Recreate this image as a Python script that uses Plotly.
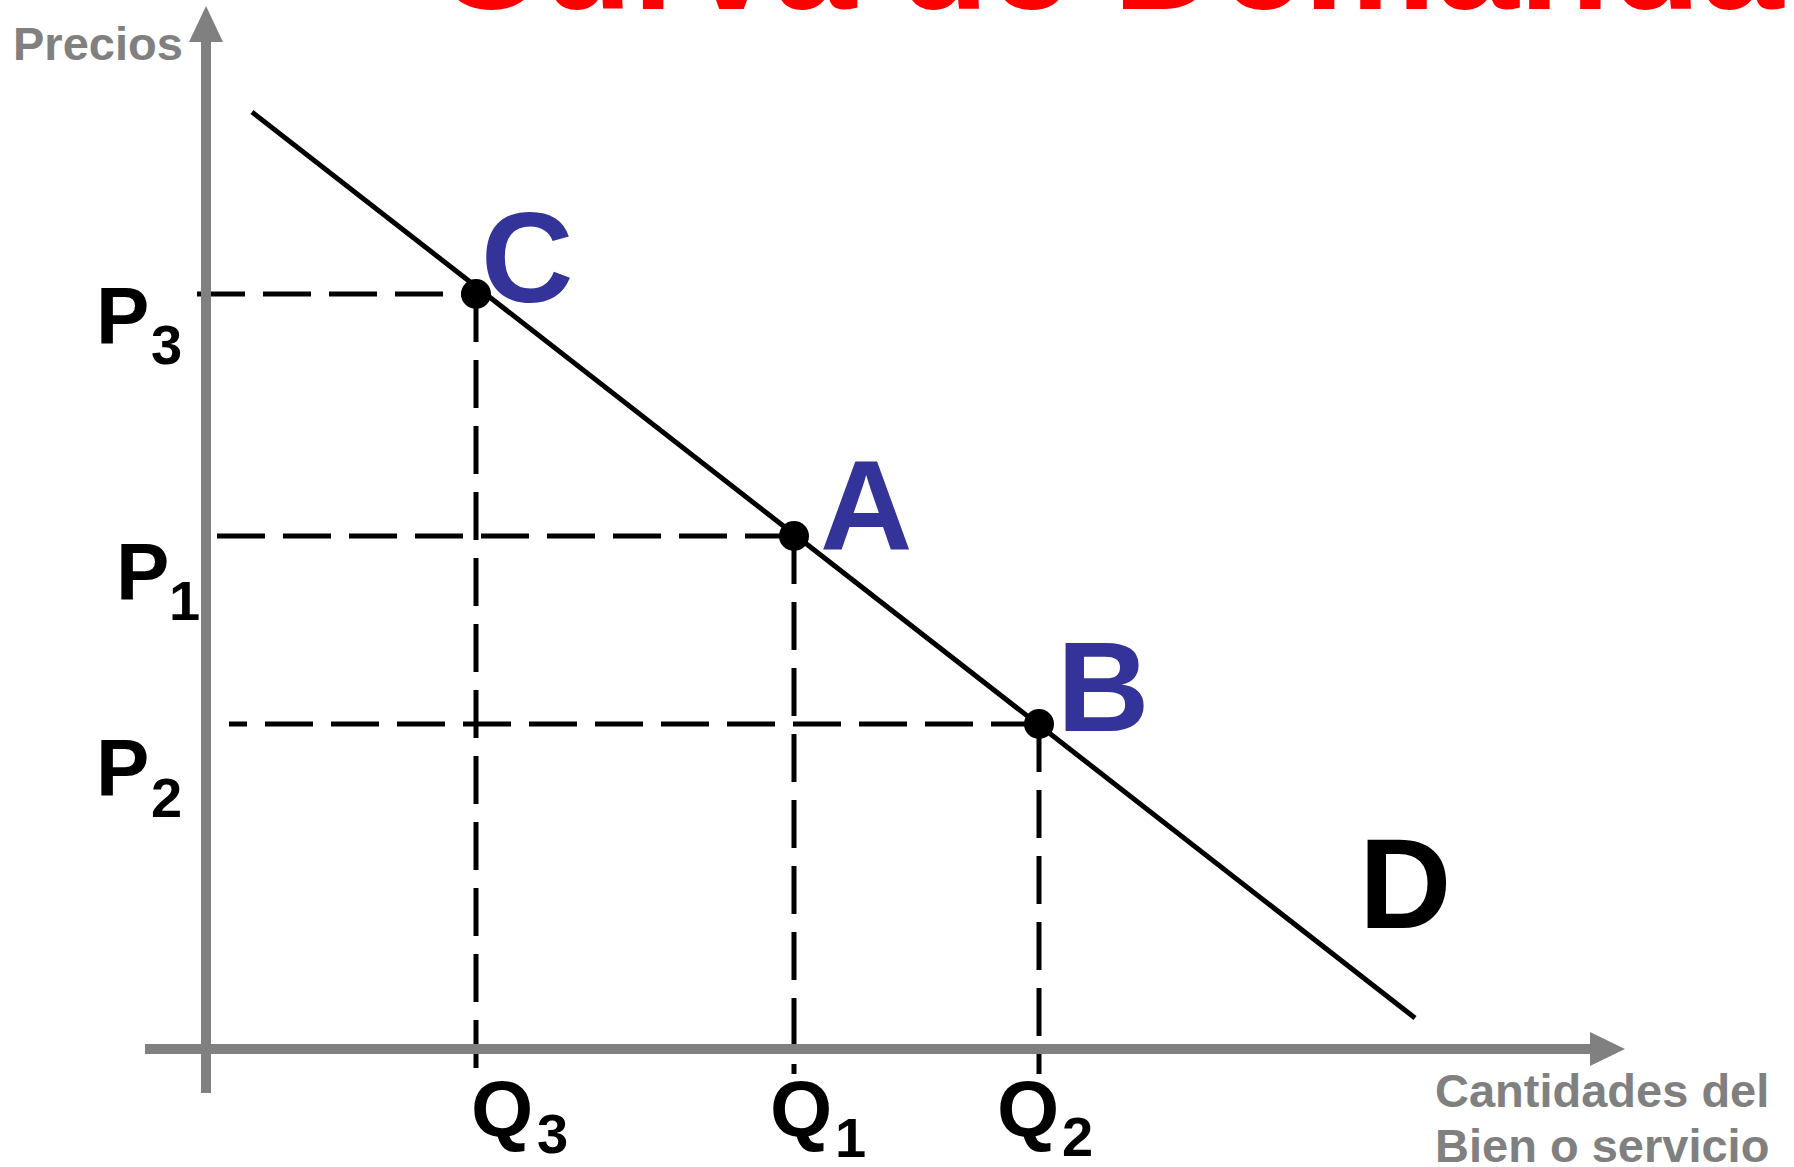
import plotly.graph_objects as go

# ---- data (quantity / price units, origin at the axes' intersection) ----
point_names = ["A", "B", "C"]
quantities = [588, 833, 270]      # Q1, Q2, Q3
prices = [513, 325, 755]          # P1, P2, P3
index_labels = ["1", "2", "3"]
demand_q = [46, 1209]
demand_p = [937, 31]

FONT = "Liberation Sans, Arial, sans-serif"
GRAY = "#808080"
BLUE = "#333399"
DASH = "48px,18px"

fig = go.Figure()

# guide (dashed) lines
h_start = {"A": 11, "B": 23, "C": -9}
for name, q, p in zip(point_names, quantities, prices):
    xs = [q, h_start[name]] if name == "B" else [h_start[name], q]
    fig.add_trace(go.Scatter(x=xs, y=[p, p], mode="lines",
                             line=dict(color="black", width=5, dash=DASH),
                             hoverinfo="skip"))
    fig.add_trace(go.Scatter(x=[q, q], y=[p, -25], mode="lines",
                             line=dict(color="black", width=5, dash=DASH),
                             hoverinfo="skip"))

# demand curve
fig.add_trace(go.Scatter(x=demand_q, y=demand_p, mode="lines",
                         line=dict(color="black", width=5), hoverinfo="skip"))
# points
fig.add_trace(go.Scatter(x=quantities, y=prices, mode="markers",
                         marker=dict(color="black", size=30), hoverinfo="skip"))

# axes with arrows
shapes = [
    dict(type="line", x0=0, x1=0, y0=-44, y1=1008, line=dict(color=GRAY, width=10)),
    dict(type="path", path="M -17,1007 L 17,1007 L 0,1043 Z",
         fillcolor=GRAY, line=dict(color=GRAY, width=0)),
    dict(type="line", x0=-61, x1=1385, y0=0, y1=0, line=dict(color=GRAY, width=10)),
    dict(type="path", path="M 1384,-17 L 1384,17 L 1419,0 Z",
         fillcolor=GRAY, line=dict(color=GRAY, width=0)),
]

ann = []
def txt(x, y, t, size, color="black", xanchor="center", yanchor="middle"):
    ann.append(dict(x=x, y=y, xref="x", yref="y", text=t, showarrow=False,
                    xanchor=xanchor, yanchor=yanchor,
                    font=dict(family=FONT, size=size, color=color, weight="bold")))

# point letters
letter_pos = {"C": (321, 792), "A": (660, 544), "B": (897, 363)}
for name in point_names:
    x, y = letter_pos[name]
    txt(x, y, name, 128, BLUE)
txt(1199, 166, "D", 128, "black")

# price / quantity labels
p_pos = {"1": ((-64, 478), (-22, 449)), "3": ((-84, 734), (-40, 705)),
         "2": ((-84, 282), (-40, 252))}
q_pos = {"3": ((296, -59), (346, -84)), "1": ((595, -59), (644, -88)),
         "2": ((822, -59), (871, -87))}
for idx in index_labels:
    (px, py), (sx, sy) = p_pos[idx]
    txt(px, py, "P", 80)
    txt(sx, sy, idx, 56)
    (qx, qy), (tx, ty) = q_pos[idx]
    txt(qx, qy, "Q", 80)
    txt(tx, ty, idx, 56)

txt(-108, 1006, "Precios", 47, GRAY)
txt(1227, -41, "Cantidades del", 47, GRAY, xanchor="left")
txt(1227, -96, "Bien o servicio", 47, GRAY, xanchor="left")

ann.append(dict(x=0.6187, y=1.036, xref="paper", yref="paper",
                text="Curva de Demanda", showarrow=False,
                xanchor="center", yanchor="middle",
                font=dict(family=FONT, size=149, color="#FF0000", weight="bold")))

fig.update_layout(
    width=1794, height=1167,
    margin=dict(l=0, r=0, t=0, b=0),
    paper_bgcolor="white", plot_bgcolor="white",
    showlegend=False,
    shapes=shapes, annotations=ann,
    xaxis=dict(range=[-206, 1588], visible=False, fixedrange=True),
    yaxis=dict(range=[-118, 1049], visible=False, fixedrange=True),
)

fig.write_html(
    "out.html",
    config={"displayModeBar": False},
    post_script="document.body.style.margin='0px';document.body.style.overflow='hidden';",
)
